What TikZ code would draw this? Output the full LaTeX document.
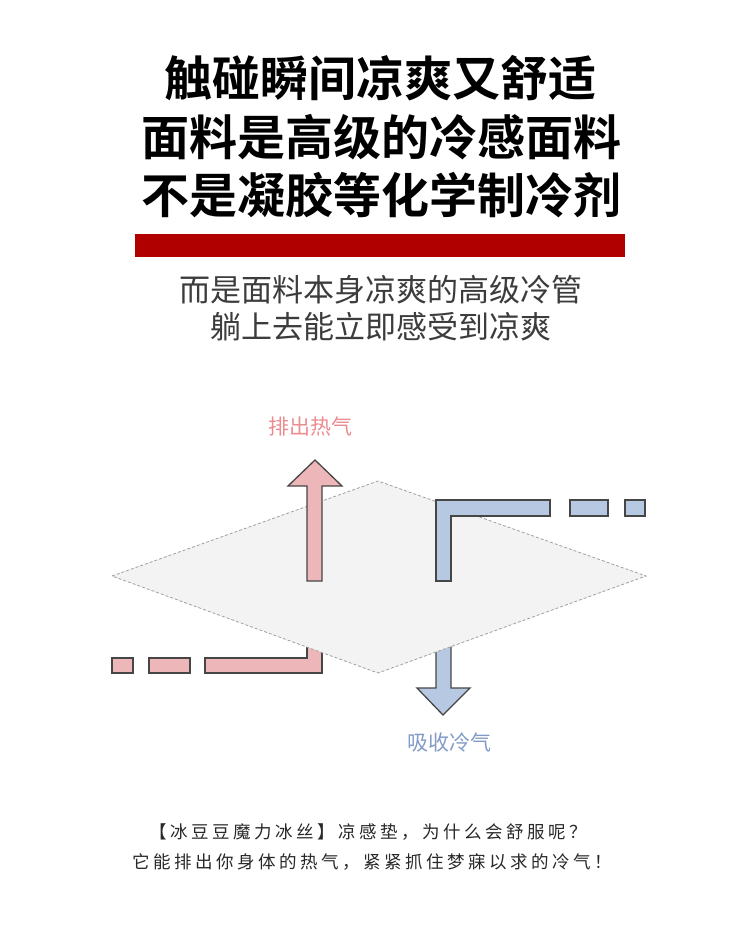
\documentclass[tikz,border=0pt]{standalone}
\usepackage{fontspec}
\setmainfont{Noto Sans CJK SC}
\newfontfamily\cjkb[BoldFont={* Bold}]{Noto Sans CJK SC}
\newfontfamily\cjksp[LetterSpace=20]{Noto Sans CJK SC}
\definecolor{redfill}{RGB}{237,183,185}
\definecolor{bluefill}{RGB}{183,201,226}
\definecolor{edge}{RGB}{70,70,70}
\definecolor{barred}{RGB}{176,0,0}
\definecolor{subgray}{RGB}{60,60,60}
\definecolor{footgray}{RGB}{40,40,40}
\definecolor{dline}{RGB}{160,160,160}
\definecolor{dfill}{RGB}{243,243,243}
\definecolor{hottext}{RGB}{236,140,145}
\definecolor{coldtext}{RGB}{130,155,200}
\begin{document}
\begin{tikzpicture}[x=1pt,y=-1pt,
  redf/.style={fill=redfill,draw=edge,line width=1.3pt},
  bluef/.style={fill=bluefill,draw=edge,line width=1.3pt},
  title/.style={font=\cjkb\bfseries\fontsize{48}{58}\selectfont,align=center},
  sub/.style={font=\fontsize{31}{37}\selectfont,text=subgray,align=center},
  foot/.style={font=\cjksp\fontsize{17.5}{30}\selectfont,text=footgray,align=center}]
\useasboundingbox (0,0) rectangle (750,950);
\fill[white] (0,0) rectangle (750,950);
\node[title] (t1) at (380,78) {触碰瞬间凉爽又舒适};
\node[title] (t2) at (381,137) {面料是高级的冷感面料};
\node[title] (t3) at (381,195) {不是凝胶等化学制冷剂};
\fill[barred] (135,234) rectangle (625,257);
\node[sub] (s1) at (381,290) {而是面料本身凉爽的高级冷管};
\node[sub] (s2) at (381,327) {躺上去能立即感受到凉爽};
\draw[redf] (112,658) rectangle (133,673);
\draw[redf] (149,658) rectangle (190,673);
\draw[redf] (205,658) -- (307,658) -- (307,620) -- (322,620) -- (322,673) -- (205,673) -- cycle;
\draw[bluef] (436,640) -- (451,640) -- (451,688) -- (470,688) -- (443,715) -- (417,688) -- (436,688) -- cycle;
\draw[densely dashed,draw=dline,fill=dfill,line width=0.8pt]
  (112,576) -- (378,481) -- (646,576) -- (378,673) -- cycle;
\draw[redf] (307,581) -- (307,486) -- (288,486) -- (315,460) -- (342,486) -- (322,486) -- (322,581) -- cycle;
\draw[bluef] (436,581) -- (436,500) -- (550,500) -- (550,516) -- (451,516) -- (451,581) -- cycle;
\draw[bluef] (570,500) rectangle (608,516);
\draw[bluef] (625,500) rectangle (645,516);
\node[font=\fontsize{21}{25}\selectfont,text=hottext] (hot) at (310,427) {排出热气};
\node[font=\fontsize{21}{25}\selectfont,text=coldtext] (cold) at (449,743) {吸收冷气};
\node[foot] (f1) at (368,832) {【冰豆豆魔力冰丝】凉感垫，为什么会舒服呢？};
\node[foot] (f2) at (372,862) {它能排出你身体的热气，紧紧抓住梦寐以求的冷气！};
\end{tikzpicture}
\end{document}
